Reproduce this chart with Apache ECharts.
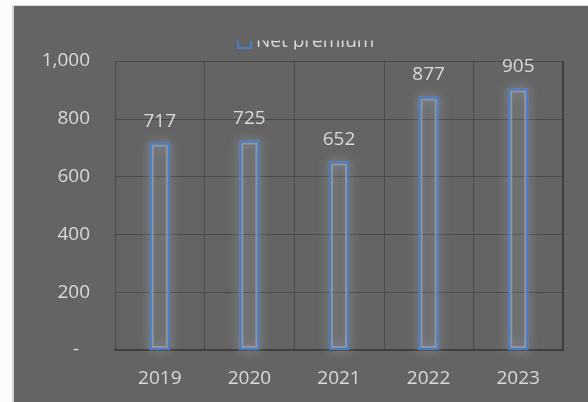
<!DOCTYPE html>
<html>
<head>
<meta charset="utf-8">
<script src="https://cdn.jsdelivr.net/npm/echarts@6/dist/echarts.min.js"></script>
<style>
  html, body { margin: 0; padding: 0; background: #fbfcfe; }
  #panel {
    position: absolute; left: 12px; top: 5px; width: 576px; height: 397px;
    background: #646464; box-sizing: border-box;
    border-left: 2px solid #d4d4d4; border-top: 1px solid #dcdcdc;
  }
  #chart { position: absolute; left: 0; top: 0; width: 588px; height: 402px; }
</style>
</head>
<body>
<div id="panel"></div>
<div id="chart"></div>
<script>
// Net premium by year
const years = ['2019', '2020', '2021', '2022', '2023'];
const netPremium = [717, 725, 652, 877, 905];
const seriesName = 'Net premium';

const textColor = '#d9d9d9';
const font = '"Open Sans", "Noto Sans", sans-serif';
const panelColor = '#646464';

const chart = echarts.init(document.getElementById('chart'), null, { renderer: 'canvas' });

chart.setOption({
  backgroundColor: 'transparent',
  animation: false,
  grid: { left: 115, right: 25, top: 61, bottom: 52, containLabel: false },
  legend: {
    data: [seriesName],
    left: 232, top: 27,
    itemWidth: 13, itemHeight: 13, itemGap: 6,
    icon: 'rect',
    itemStyle: { color: 'rgba(0,0,0,0)', borderColor: '#4a7cc4', borderWidth: 2 },
    textStyle: { color: textColor, fontSize: 19, fontFamily: font }
  },
  xAxis: {
    type: 'category',
    data: years,
    boundaryGap: true,
    axisLine: { show: true, lineStyle: { color: '#3e3e3e', width: 2 } },
    axisTick: { show: false },
    splitLine: { show: true, lineStyle: { color: '#4a4a4a', width: 1 } },
    axisLabel: { color: textColor, fontSize: 19, fontFamily: font, margin: 19 }
  },
  yAxis: {
    type: 'value',
    min: 0, max: 1000, interval: 200,
    axisLine: { show: false },
    axisTick: { show: false },
    splitLine: { show: true, lineStyle: { color: '#4a4a4a', width: 1 } },
    axisLabel: {
      color: textColor, fontSize: 19, fontFamily: font, margin: 25,
      formatter: v => v === 0 ? '-\u2007' : v.toLocaleString('en-US')
    }
  },
  graphic: [
    // right frame edge of the plot
    { type: 'line', z: 3, shape: { x1: 563, y1: 61, x2: 563, y2: 351 },
      style: { stroke: '#3e3e3e', lineWidth: 2 } },
    // legend band is cut off above and below
    { type: 'rect', z: 100, shape: { x: 220, y: 6, width: 180, height: 34.5 },
      style: { fill: panelColor } },
    { type: 'rect', z: 100, shape: { x: 220, y: 49.5, width: 180, height: 11 },
      style: { fill: panelColor } }
  ],
  series: [
    {
      // soft halo under the bar outline
      name: 'halo',
      type: 'bar',
      data: netPremium,
      barWidth: 20,
      barGap: '-100%',
      z: 1,
      silent: true,
      itemStyle: {
        color: 'rgba(0,0,0,0)',
        borderColor: 'rgba(170,180,200,0.5)',
        borderWidth: 4,
        shadowBlur: 12,
        shadowColor: 'rgba(200,210,230,1)'
      }
    },
    {
      name: seriesName,
      type: 'bar',
      data: netPremium,
      barWidth: 20,
      barGap: '-100%',
      z: 2,
      itemStyle: {
        color: 'rgba(0,0,0,0)',
        borderColor: '#4a7cc4',
        borderWidth: 2
      },
      label: {
        show: true, position: 'top', distance: 12,
        color: textColor, fontSize: 19, fontFamily: font
      }
    }
  ]
});
</script>
</body>
</html>
